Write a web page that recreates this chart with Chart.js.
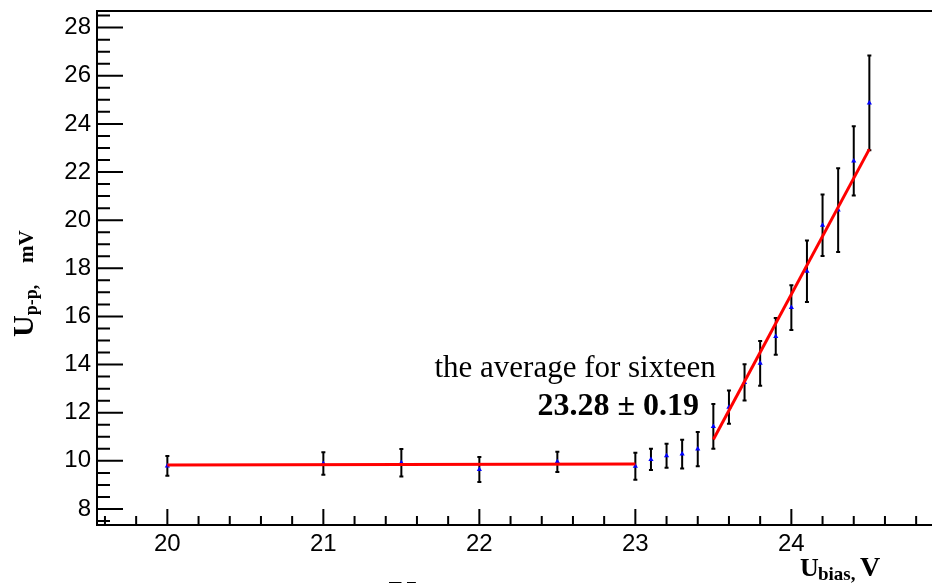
<!DOCTYPE html>
<html>
<head>
<meta charset="utf-8">
<script src="https://cdn.jsdelivr.net/npm/chart.js@4.4.1/dist/chart.umd.min.js"></script>
<style>
  html, body { margin: 0; padding: 0; background: #fff; overflow: hidden; }
  /* the frame runs past the right edge of the view */
  #wrap { width: 937px; height: 583px; position: relative; }
</style>
</head>
<body>
<div id="wrap"><canvas id="chart"></canvas></div>
<script>
// Bias voltage scan: peak-to-peak amplitude with its uncertainty
const biasVoltage  = [20, 21, 21.5, 22, 22.5, 23, 23.1, 23.2, 23.3, 23.4, 23.5,
                      23.6, 23.7, 23.8, 23.9, 24.0, 24.1, 24.2, 24.3, 24.4, 24.5];
const amplitude    = [9.79, 9.89, 9.92, 9.64, 9.96, 9.78, 10.06, 10.21, 10.28, 10.49, 11.43,
                      12.23, 13.26, 14.05, 15.17, 16.37, 17.88, 19.79, 20.42, 22.46, 24.87];
const amplitudeErr = [0.41, 0.47, 0.57, 0.52, 0.42, 0.56, 0.44, 0.50, 0.60, 0.71, 0.93,
                      0.69, 0.75, 0.93, 0.76, 0.93, 1.28, 1.28, 1.74, 1.44, 1.97];

// Linear fits: flat plateau and rising branch
const plateauFitX = [20, 23];
const plateauFitY = [9.83, 9.87];
const slopeFitX   = [23.5, 24.5];
const slopeFitY   = [10.89, 22.95];

// Axis labels
const xTickValues = [20, 21, 22, 23, 24];
const yTickValues = [8, 10, 12, 14, 16, 18, 20, 22, 24, 26, 28];

const averageCaption = 'the average for sixteen';
const averageResult  = '23.28 \u00B1 0.19';

const SERIF = '"Liberation Serif", "Times New Roman", serif';
const SANS  = '"Liberation Sans", Arial, sans-serif';

// Vertical error bars with short caps, drawn beneath the markers
const errorBars = {
  id: 'errorBars',
  beforeDatasetsDraw(chart) {
    const { ctx, scales: { x, y } } = chart;
    ctx.save();
    ctx.strokeStyle = '#000';
    ctx.lineWidth = 2;
    biasVoltage.forEach((v, i) => {
      const px = x.getPixelForValue(v);
      const top = y.getPixelForValue(amplitude[i] + amplitudeErr[i]);
      const bot = y.getPixelForValue(amplitude[i] - amplitudeErr[i]);
      ctx.beginPath();
      ctx.moveTo(px, top); ctx.lineTo(px, bot);
      ctx.moveTo(px - 2, top); ctx.lineTo(px + 2, top);
      ctx.moveTo(px - 2, bot); ctx.lineTo(px + 2, bot);
      ctx.stroke();
    });
    ctx.restore();
  }
};

// Top frame line plus inward-pointing major/minor ticks on both axes
const frameTicks = {
  id: 'frameTicks',
  afterDraw(chart) {
    const { ctx, chartArea: a, scales: { x, y } } = chart;
    ctx.save();
    ctx.strokeStyle = '#000';
    ctx.lineWidth = 2;
    ctx.beginPath();
    ctx.moveTo(a.left, a.top);
    ctx.lineTo(a.right, a.top);
    ctx.stroke();

    ctx.beginPath();
    // y: minor every 0.5, major every 2
    for (let k = 15; k <= 57; k++) {
      const v = k / 2;
      const py = y.getPixelForValue(v);
      if (py < a.top || py > a.bottom) continue;
      const len = (k % 4 === 0) ? 26 : 13;
      ctx.moveTo(a.left, py);
      ctx.lineTo(a.left + len, py);
    }
    // x: minor every 0.2, major every 1
    for (let k = 98; k <= 124; k++) {
      const v = k / 5;
      const px = x.getPixelForValue(v);
      if (px < a.left || px > a.right) continue;
      const len = (k % 5 === 0) ? 16 : 9;
      ctx.moveTo(px, a.bottom);
      ctx.lineTo(px, a.bottom - len);
    }
    ctx.stroke();
    ctx.restore();
  }
};

// Axis titles with subscripts and the result caption
const captions = {
  id: 'captions',
  afterDraw(chart) {
    const { ctx, scales: { x, y } } = chart;
    ctx.save();
    ctx.fillStyle = '#000';
    ctx.textAlign = 'left';
    ctx.textBaseline = 'alphabetic';

    // vertical title: U_{p-p}, mV
    ctx.save();
    ctx.translate(33, 337);
    ctx.rotate(-Math.PI / 2);
    ctx.font = 'bold 30px ' + SERIF;
    ctx.fillText('U', 0, 0);
    const uW = ctx.measureText('U').width;
    ctx.font = 'bold 18px ' + SERIF;
    ctx.fillText('p-p,', uW, 4);
    ctx.font = 'bold 21px ' + SERIF;
    ctx.fillText('mV', 74, 0);
    ctx.restore();

    // horizontal title: U_{bias}, V
    ctx.font = 'bold 26px ' + SERIF;
    ctx.fillText('U', 800, 575.5);
    ctx.font = 'bold 19px ' + SERIF;
    ctx.fillText('bias,', 818, 580);
    ctx.font = 'bold 28px ' + SERIF;
    ctx.fillText('V', 860, 575.5);

    ctx.font = 'bold 40px ' + SERIF;
    ctx.fillText('U', 388, 608);

    // result caption, anchored in data units
    ctx.font = '31px ' + SERIF;
    ctx.fillText(averageCaption, x.getPixelForValue(21.712), y.getPixelForValue(13.49));
    ctx.font = 'bold 32px ' + SERIF;
    ctx.fillText(averageResult, x.getPixelForValue(22.373), y.getPixelForValue(11.90));
    ctx.restore();
  }
};

const toPoints = (xs, ys) => xs.map((v, i) => ({ x: v, y: ys[i] }));

// Plot frame spans fixed margins: no extra room reserved for edge labels
function fixFrame(width, height) {
  return function (s) {
    if (width !== null) s.width = width;
    if (height !== null) s.height = height;
    s.paddingTop = 0; s.paddingBottom = 0;
    s.paddingLeft = 0; s.paddingRight = 0;
  };
}

new Chart(document.getElementById('chart'), {
  type: 'scatter',
  data: {
    datasets: [
      {
        label: 'plateau fit',
        data: toPoints(plateauFitX, plateauFitY),
        showLine: true,
        borderColor: '#ff0000',
        borderWidth: 3,
        pointRadius: 0,
        order: 0
      },
      {
        label: 'slope fit',
        data: toPoints(slopeFitX, slopeFitY),
        showLine: true,
        borderColor: '#ff0000',
        borderWidth: 3,
        pointRadius: 0,
        order: 0
      },
      {
        label: 'U p-p',
        data: toPoints(biasVoltage, amplitude),
        pointStyle: 'triangle',
        pointRadius: 3,
        backgroundColor: '#0000ff',
        borderColor: '#0000ff',
        borderWidth: 0,
        order: 1
      }
    ]
  },
  options: {
    responsive: true,
    maintainAspectRatio: false,
    animation: false,
    layout: { padding: { top: 11, left: 0, right: 0, bottom: 0 } },
    plugins: { legend: { display: false }, tooltip: { enabled: false } },
    scales: {
      x: {
        type: 'linear',
        min: 19.549,
        max: 24.908,
        afterFit: fixFrame(null, 58),
        afterBuildTicks(s) { s.ticks = xTickValues.map(v => ({ value: v })); },
        grid: { drawOnChartArea: false, drawTicks: false },
        border: { display: true, color: '#000', width: 2 },
        ticks: { font: { family: SANS, size: 24 }, color: '#000', padding: 5, maxRotation: 0, autoSkip: false }
      },
      y: {
        type: 'linear',
        min: 7.335,
        max: 28.69,
        afterFit: fixFrame(97, null),
        afterBuildTicks(s) { s.ticks = yTickValues.map(v => ({ value: v })); },
        grid: { drawOnChartArea: false, drawTicks: false },
        border: { display: true, color: '#000', width: 2 },
        ticks: { font: { family: SANS, size: 24 }, color: '#000', padding: 6, autoSkip: false }
      }
    }
  },
  plugins: [errorBars, frameTicks, captions]
});
</script>
</body>
</html>
